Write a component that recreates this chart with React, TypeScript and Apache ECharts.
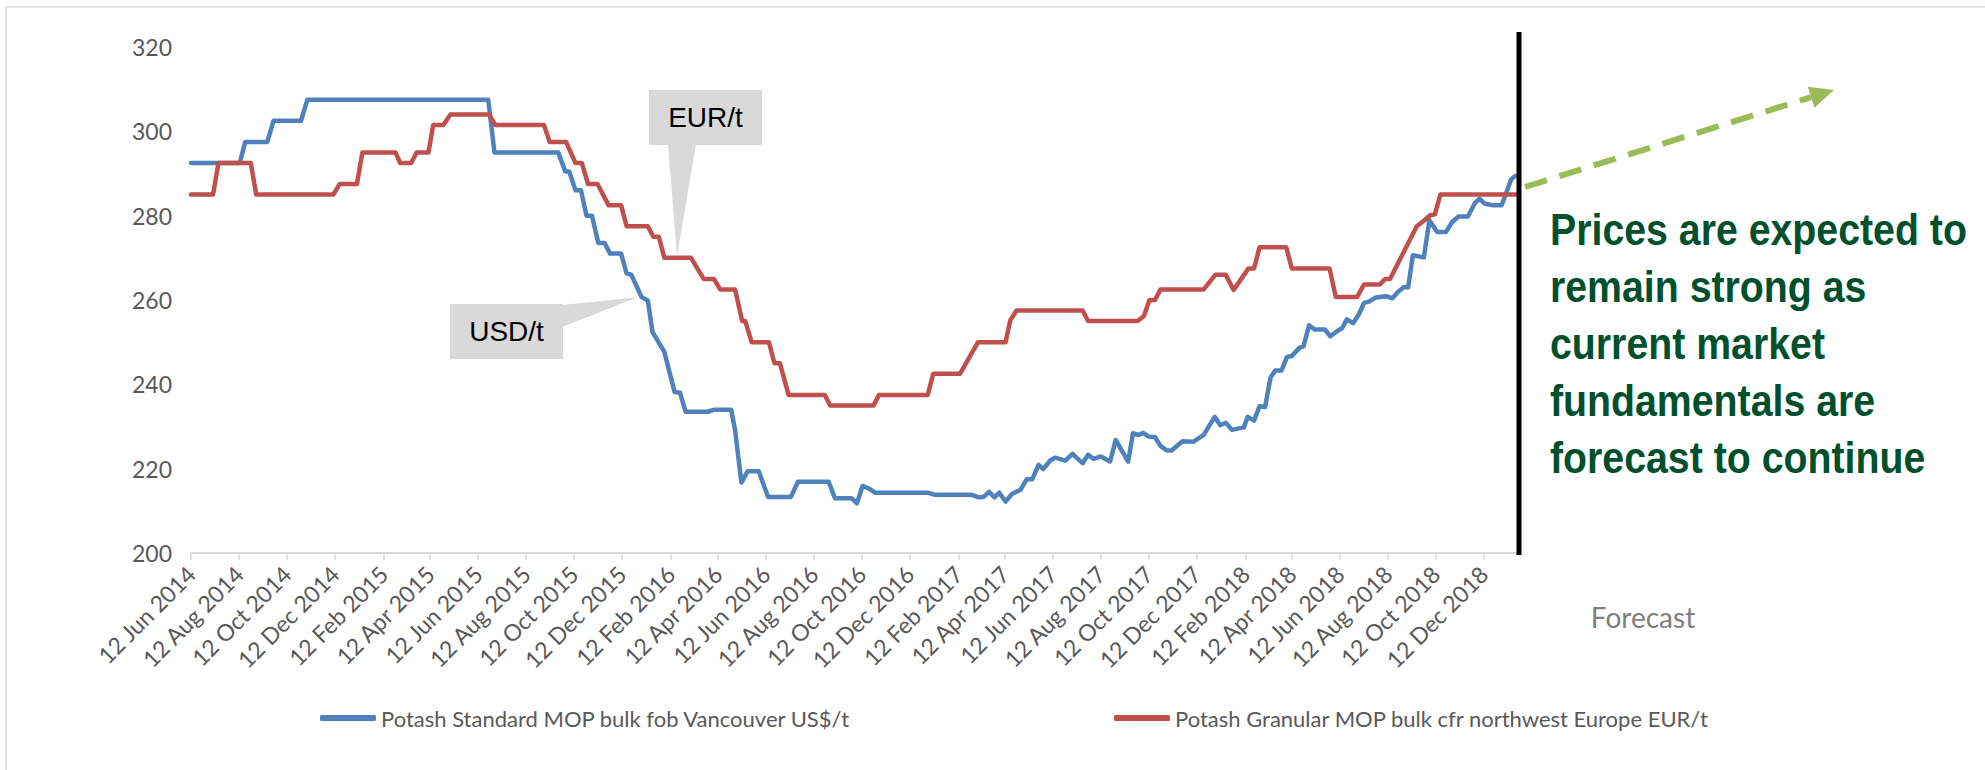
import React, { useEffect, useRef } from "react";
import * as echarts from "echarts";

const BLUE_NAME = "Potash Standard MOP bulk fob Vancouver US$/t";
const RED_NAME = "Potash Granular MOP bulk cfr northwest Europe EUR/t";

const X_TICK_LABELS = [
  "12 Jun 2014", "12 Aug 2014", "12 Oct 2014", "12 Dec 2014",
  "12 Feb 2015", "12 Apr 2015", "12 Jun 2015", "12 Aug 2015", "12 Oct 2015", "12 Dec 2015",
  "12 Feb 2016", "12 Apr 2016", "12 Jun 2016", "12 Aug 2016", "12 Oct 2016", "12 Dec 2016",
  "12 Feb 2017", "12 Apr 2017", "12 Jun 2017", "12 Aug 2017", "12 Oct 2017", "12 Dec 2017",
  "12 Feb 2018", "12 Apr 2018", "12 Jun 2018", "12 Aug 2018", "12 Oct 2018", "12 Dec 2018",
];
const X_MIN_DATE = "2014-06-12";
const X_MAX_DATE = "2019-01-26";
const Y_MIN = 200;
const Y_MAX = 320;
const Y_STEP = 20;

const BLUE_POINTS: [string, number][] = [
  ["2014-06-12", 292.5], ["2014-08-13", 292.5], ["2014-08-20", 297.5], ["2014-09-17", 297.5],
  ["2014-09-25", 302.5], ["2014-10-30", 302.5], ["2014-11-07", 307.5], ["2015-06-25", 307.5],
  ["2015-07-03", 295], ["2015-09-22", 295], ["2015-10-01", 290.5], ["2015-10-06", 290.5],
  ["2015-10-14", 286], ["2015-10-21", 286], ["2015-10-28", 280], ["2015-11-04", 280],
  ["2015-11-12", 273.5], ["2015-11-20", 273.5], ["2015-11-27", 271], ["2015-12-11", 271],
  ["2015-12-18", 266.3], ["2015-12-24", 266], ["2016-01-06", 260.7], ["2016-01-14", 259.9],
  ["2016-01-20", 252.4], ["2016-02-04", 247.7], ["2016-02-17", 238.2], ["2016-02-24", 238],
  ["2016-03-02", 233.5], ["2016-03-30", 233.5], ["2016-04-08", 234], ["2016-04-29", 234],
  ["2016-05-04", 229.1], ["2016-05-12", 216.7], ["2016-05-20", 219.4], ["2016-06-03", 219.4],
  ["2016-06-15", 213.3], ["2016-07-14", 213.3], ["2016-07-23", 216.9], ["2016-08-31", 216.9],
  ["2016-09-08", 213], ["2016-09-29", 213], ["2016-10-06", 211.8], ["2016-10-13", 215.9],
  ["2016-10-21", 215.3], ["2016-10-29", 214.3], ["2017-01-04", 214.3], ["2017-01-13", 213.8],
  ["2017-03-01", 213.8], ["2017-03-10", 213.2], ["2017-03-16", 213.3], ["2017-03-23", 214.5],
  ["2017-03-30", 213.2], ["2017-04-05", 214.3], ["2017-04-13", 212.2], ["2017-04-21", 214],
  ["2017-05-02", 215], ["2017-05-10", 217.5], ["2017-05-17", 217.5], ["2017-05-25", 220.9],
  ["2017-05-31", 219.9], ["2017-06-09", 222], ["2017-06-15", 222.6], ["2017-06-28", 221.9],
  ["2017-07-07", 223.5], ["2017-07-20", 221.3], ["2017-07-27", 223.3], ["2017-08-03", 222.3],
  ["2017-08-12", 222.9], ["2017-08-24", 221.7], ["2017-08-31", 226.8], ["2017-09-16", 221.7],
  ["2017-09-22", 228.4], ["2017-09-29", 228], ["2017-10-05", 228.5], ["2017-10-12", 227.6],
  ["2017-10-20", 227.5], ["2017-10-27", 225.4], ["2017-11-04", 224.3], ["2017-11-10", 224.3],
  ["2017-11-24", 226.5], ["2017-12-08", 226.4], ["2017-12-21", 228], ["2018-01-04", 232.3],
  ["2018-01-11", 230.3], ["2018-01-18", 230.9], ["2018-01-26", 229.2], ["2018-02-10", 229.8],
  ["2018-02-15", 232.3], ["2018-02-23", 231.4], ["2018-03-02", 234.8], ["2018-03-09", 234.6],
  ["2018-03-16", 241.6], ["2018-03-22", 243.3], ["2018-03-30", 243.3], ["2018-04-06", 246.5],
  ["2018-04-12", 246.7], ["2018-04-22", 248.7], ["2018-04-27", 249], ["2018-05-04", 254],
  ["2018-05-11", 253], ["2018-05-24", 253], ["2018-05-31", 251.4], ["2018-06-11", 252.9],
  ["2018-06-15", 253.3], ["2018-06-21", 255.4], ["2018-06-29", 254.5], ["2018-07-06", 256.5],
  ["2018-07-13", 259.3], ["2018-07-19", 259.6], ["2018-07-28", 260.6], ["2018-08-10", 260.9],
  ["2018-08-18", 260.4], ["2018-08-25", 261.9], ["2018-09-01", 263], ["2018-09-07", 263],
  ["2018-09-13", 270.6], ["2018-09-27", 270.1], ["2018-10-04", 278.9], ["2018-10-14", 276.1],
  ["2018-10-25", 276.1], ["2018-11-02", 278.5], ["2018-11-10", 279.8], ["2018-11-22", 279.8],
  ["2018-12-01", 283], ["2018-12-07", 284], ["2018-12-13", 282.9], ["2018-12-23", 282.5],
  ["2019-01-04", 282.5], ["2019-01-16", 288.6], ["2019-01-21", 289.4],
];

const RED_POINTS: [string, number][] = [
  ["2014-06-12", 285], ["2014-07-10", 285], ["2014-07-17", 292.5], ["2014-08-27", 292.5],
  ["2014-09-03", 285], ["2014-12-10", 285], ["2014-12-18", 287.5], ["2015-01-09", 287.5],
  ["2015-01-16", 295], ["2015-02-27", 295], ["2015-03-05", 292.5], ["2015-03-19", 292.5],
  ["2015-03-26", 295], ["2015-04-10", 295], ["2015-04-16", 301.5], ["2015-04-29", 301.5],
  ["2015-05-08", 304], ["2015-06-26", 304], ["2015-07-04", 301.5], ["2015-09-04", 301.5],
  ["2015-09-11", 297.5], ["2015-10-02", 297.5], ["2015-10-14", 292.5], ["2015-10-22", 292.5],
  ["2015-10-30", 287.5], ["2015-11-11", 287.5], ["2015-11-25", 282.5], ["2015-12-11", 282.5],
  ["2015-12-18", 277.5], ["2016-01-14", 277.5], ["2016-01-21", 275], ["2016-01-28", 275],
  ["2016-02-04", 270], ["2016-03-09", 270], ["2016-03-25", 265], ["2016-04-07", 265],
  ["2016-04-15", 262.5], ["2016-05-04", 262.5], ["2016-05-13", 255], ["2016-05-17", 255],
  ["2016-05-25", 250], ["2016-06-16", 250], ["2016-06-23", 245], ["2016-06-30", 245],
  ["2016-07-11", 237.5], ["2016-08-26", 237.5], ["2016-09-02", 235], ["2016-10-27", 235],
  ["2016-11-03", 237.5], ["2017-01-04", 237.5], ["2017-01-11", 242.5], ["2017-02-14", 242.5],
  ["2017-03-09", 250], ["2017-04-13", 250], ["2017-04-19", 255.2], ["2017-04-27", 257.5],
  ["2017-07-20", 257.5], ["2017-07-27", 255], ["2017-09-28", 255], ["2017-10-06", 256.2],
  ["2017-10-13", 260], ["2017-10-20", 260], ["2017-10-27", 262.5], ["2017-12-21", 262.5],
  ["2018-01-05", 266], ["2018-01-18", 266], ["2018-01-28", 262.4], ["2018-02-16", 267.5],
  ["2018-02-23", 267.5], ["2018-03-02", 272.5], ["2018-04-05", 272.5], ["2018-04-12", 267.5],
  ["2018-05-30", 267.5], ["2018-06-07", 260.7], ["2018-07-04", 260.7], ["2018-07-13", 263.7],
  ["2018-08-02", 263.7], ["2018-08-09", 265], ["2018-08-15", 265], ["2018-09-18", 277.5],
  ["2018-09-27", 278.8], ["2018-10-05", 280.1], ["2018-10-11", 280.3], ["2018-10-18", 285],
  ["2019-01-24", 285],
];

const CALLOUT_EUR = "EUR/t";
const CALLOUT_USD = "USD/t";
const FORECAST_LABEL = "Forecast";
const NOTE_LINES = [
  "Prices are expected to",
  "remain strong as",
  "current market",
  "fundamentals are",
  "forecast to continue",
];

const MONTHS = ["Jan", "Feb", "Mar", "Apr", "May", "Jun", "Jul", "Aug", "Sep", "Oct", "Nov", "Dec"];

function parseTickLabel(s: string): number {
  const [d, m, y] = s.split(" ");
  return Date.UTC(Number(y), MONTHS.indexOf(m), Number(d));
}
function iso(s: string): number {
  const [y, m, d] = s.split("-").map(Number);
  return Date.UTC(y, m - 1, d);
}

const AXIS_FONT = 'Lato, "Liberation Sans", sans-serif';

export default function App() {
  const ref = useRef<HTMLDivElement>(null);

  useEffect(() => {
    if (!ref.current) return;
    const chart = echarts.init(ref.current, undefined, { renderer: "svg" });
    const tickValues = X_TICK_LABELS.map(parseTickLabel);
    const labelFor = (v: number) => {
      const i = tickValues.findIndex((t) => Math.abs(t - v) < 3600 * 1000);
      return i >= 0 ? X_TICK_LABELS[i] : "";
    };

    const green = "#9BBB59";
    const tip = [1834, 90];
    const start = [1525, 187];
    const dx = tip[0] - start[0];
    const dy = tip[1] - start[1];
    const len = Math.sqrt(dx * dx + dy * dy);
    const ux = dx / len, uy = dy / len;
    const nx = -uy, ny = ux;
    const headLen = 24, headHalf = 11;
    const bx = tip[0] - ux * headLen, by = tip[1] - uy * headLen;

    const option: any = {
      animation: false,
      backgroundColor: "#ffffff",
      grid: { left: 191, right: 466, top: 47, bottom: 217, containLabel: false },
      xAxis: {
        type: "value",
        min: iso(X_MIN_DATE),
        max: iso(X_MAX_DATE),
        axisLine: { show: true, onZero: false, lineStyle: { color: "#D9D9D9", width: 2 } },
        axisTick: { show: true, customValues: tickValues, length: 7, lineStyle: { color: "#D9D9D9", width: 1.5 } },
        axisLabel: {
          customValues: tickValues,
          rotate: 45,
          margin: 17,
          formatter: (v: number) => labelFor(v),
          fontFamily: AXIS_FONT,
          fontSize: 23,
          color: "#595959",
        },
        splitLine: { show: false },
      },
      yAxis: {
        type: "value",
        min: Y_MIN,
        max: Y_MAX,
        interval: Y_STEP,
        axisLine: { show: false },
        axisTick: { show: false },
        splitLine: { show: false },
        axisLabel: { margin: 19, fontFamily: AXIS_FONT, fontSize: 23, color: "#595959" },
      },
      legend: [
        {
          data: [BLUE_NAME],
          left: 320,
          top: 705,
          padding: 0,
          itemWidth: 56,
          itemHeight: 6,
          itemGap: 10,
          icon: "roundRect",
          textStyle: { fontFamily: AXIS_FONT, fontSize: 22, color: "#595959", lineHeight: 26 },
        },
        {
          data: [RED_NAME],
          left: 1114,
          top: 705,
          padding: 0,
          itemWidth: 56,
          itemHeight: 6,
          itemGap: 10,
          icon: "roundRect",
          textStyle: { fontFamily: AXIS_FONT, fontSize: 22, color: "#595959", lineHeight: 26 },
        },
      ],
      series: [
        {
          name: BLUE_NAME,
          type: "line",
          data: BLUE_POINTS.map(([d, v]) => [iso(d), v]),
          showSymbol: false,
          symbol: "none",
          color: "#4F81BD",
          lineStyle: { width: 4.5, color: "#4F81BD", join: "round", cap: "round" },
          z: 3,
        },
        {
          name: RED_NAME,
          type: "line",
          data: RED_POINTS.map(([d, v]) => [iso(d), v]),
          showSymbol: false,
          symbol: "none",
          color: "#C0504D",
          lineStyle: { width: 4.5, color: "#C0504D", join: "round", cap: "round" },
          z: 4,
        },
      ],
      graphic: [
        {
          type: "rect",
          shape: { x: 6, y: 7, width: 2100, height: 900 },
          style: { fill: "none", stroke: "#D9D9D9", lineWidth: 1.5 },
          silent: true,
          z: 1,
        },
        {
          type: "line",
          shape: { x1: 1519, y1: 32, x2: 1519, y2: 555 },
          style: { stroke: "#000000", lineWidth: 5 },
          z: 50,
        },
        {
          type: "line",
          shape: { x1: start[0], y1: start[1], x2: bx, y2: by },
          style: { stroke: green, lineWidth: 6, lineDash: [23, 13] },
          z: 50,
        },
        {
          type: "polygon",
          shape: {
            points: [
              [tip[0], tip[1]],
              [bx + nx * headHalf, by + ny * headHalf],
              [bx - nx * headHalf, by - ny * headHalf],
            ],
          },
          style: { fill: green },
          z: 50,
        },
        // EUR callout
        {
          type: "polygon",
          shape: { points: [[668, 144], [677, 256], [696, 144]] },
          style: { fill: "#D9D9D9" },
          z: 60,
        },
        {
          type: "rect",
          shape: { x: 649, y: 90, width: 113, height: 55 },
          style: { fill: "#D9D9D9" },
          z: 60,
        },
        {
          type: "text",
          x: 705.5,
          y: 117.5,
          style: {
            text: CALLOUT_EUR,
            fontFamily: '"Liberation Sans", Arial, sans-serif',
            fontSize: 28,
            fill: "#000000",
            align: "center",
            verticalAlign: "middle",
          },
          z: 61,
        },
        // USD callout
        {
          type: "polygon",
          shape: { points: [[562, 305], [637.7, 297.3], [562, 327]] },
          style: { fill: "#D9D9D9" },
          z: 60,
        },
        {
          type: "rect",
          shape: { x: 450, y: 304, width: 113, height: 55 },
          style: { fill: "#D9D9D9" },
          z: 60,
        },
        {
          type: "text",
          x: 506.5,
          y: 331.5,
          style: {
            text: CALLOUT_USD,
            fontFamily: '"Liberation Sans", Arial, sans-serif',
            fontSize: 28,
            fill: "#000000",
            align: "center",
            verticalAlign: "middle",
          },
          z: 61,
        },
        // Forecast label
        {
          type: "text",
          x: 1643,
          y: 617,
          style: {
            text: FORECAST_LABEL,
            fontFamily: AXIS_FONT,
            fontSize: 28,
            fill: "#7F7F7F",
            align: "center",
            verticalAlign: "middle",
          },
          z: 60,
        },
        // Note text
        ...NOTE_LINES.map((line, i) => ({
          type: "text",
          x: 1550,
          y: 230 + i * 57,
          scaleX: 0.873,
          style: {
            text: line,
            fontFamily: '"Liberation Sans", Arial, sans-serif',
            fontWeight: "bold",
            fontSize: 45,
            fill: "#00502D",
            align: "left",
            verticalAlign: "middle",
          },
          z: 60,
        })),
      ],
    };

    chart.setOption(option);
    return () => chart.dispose();
  }, []);

  return (
    <div
      ref={ref}
      style={{ position: "absolute", left: 0, top: 0, width: 1985, height: 770, background: "#fff" }}
    />
  );
}
